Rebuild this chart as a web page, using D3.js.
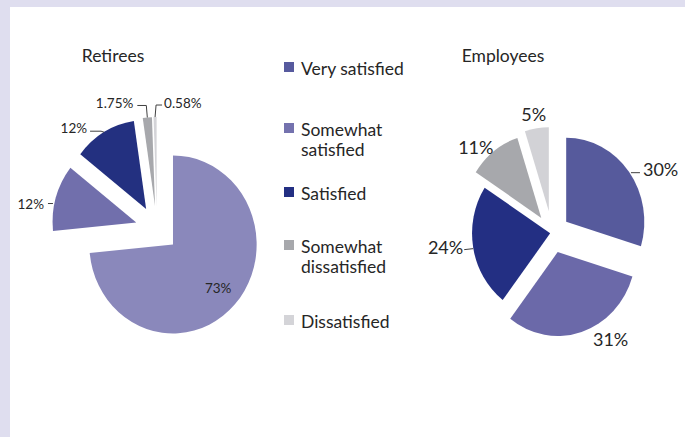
<!DOCTYPE html>
<html>
<head>
<meta charset="utf-8">
<script src="https://cdn.jsdelivr.net/npm/d3@7"></script>
<style>
  body { margin: 0; background: #dfdeef; }
  svg { display: block; font-family: Lato, "Open Sans", sans-serif; }
</style>
</head>
<body>
<svg id="chart"></svg>
<script>
const categories = ["Very satisfied", "Somewhat satisfied", "Satisfied", "Somewhat dissatisfied", "Dissatisfied"];
const legendLines = [["Very satisfied"], ["Somewhat", "satisfied"], ["Satisfied"], ["Somewhat", "dissatisfied"], ["Dissatisfied"]];

const retireesValues = [73, 12, 12, 1.75, 0.58];
const retireesLabels = ["73%", "12%", "12%", "1.75%", "0.58%"];

const employeesValues = [30, 31, 24, 11, 5];
const employeesLabels = ["30%", "31%", "24%", "11%", "5%"];

const legendColors = ["#575a9e", "#7472ae", "#232f83", "#a7a8ac", "#d4d4d8"];
const retireesColors = ["#8a88bb", "#716fac", "#233080", "#a7a8ac", "#d4d4d8"];
const employeesColors = ["#565a9c", "#6b69a9", "#232f83", "#a7a8ac", "#d2d2d6"];

const width = 685;
const height = 437;

const svg = d3.select("#chart")
  .attr("width", width)
  .attr("height", height);

// white panel on the lavender page
svg.append("rect")
  .attr("x", 10).attr("y", 7)
  .attr("width", width - 10).attr("height", height - 7)
  .attr("fill", "#ffffff");

const textColor = "#262626";

// label style per slice: where it sits relative to the point on the rim at mid-angle
const retireesLabelStyle = [
  { inside: 0.73, size: 13.5 },
  { dx: -12, dy: 6, anchor: "end", size: 13.5, leader: [[-3, 6], [-8, 6]] },
  { dx: -17, dy: -4, anchor: "end", size: 13.5, leader: [[0, 0], [-3, -1], [-14, -1]] },
  { dx: -14, dy: -14, anchor: "end", size: 13.5, leader: [[0, 0], [-1, -12], [-10, -12]] },
  { dx: 9, dy: -14, anchor: "start", size: 13.5, leader: [[0, 0], [1, -12], [7, -12]] }
];

const employeesLabelStyle = [
  { dx: 14, dy: -3, anchor: "start", size: 18, leader: [[2, 1], [11, 1]] },
  { dx: 29, dy: 7, anchor: "middle", size: 18 },
  { dx: -10, dy: -1, anchor: "end", size: 18, leader: [[0, 1], [-9, 2]] },
  { dx: -18, dy: -4, anchor: "middle", size: 18 },
  { dx: -3, dy: -14, anchor: "middle", size: 18 }
];

function drawPie(opts) {
  const pie = d3.pie().sort(null).value(d => d);
  const arcs = pie(opts.values);
  const arc = d3.arc().innerRadius(0).outerRadius(opts.r);

  const g = svg.append("g")
    .attr("transform", `translate(${opts.cx},${opts.cy}) scale(${opts.sx},1)`);

  g.selectAll("path")
    .data(arcs)
    .enter()
    .append("path")
    .attr("d", arc)
    .attr("fill", (d, i) => opts.colors[i])
    .attr("transform", (d, i) => {
      const a = (d.startAngle + d.endAngle) / 2;
      const e = opts.explode[i];
      return `translate(${e * Math.sin(a)},${-e * Math.cos(a)})`;
    });

  // labels in page space so text is not stretched
  arcs.forEach((d, i) => {
    const st = opts.labelStyle[i];
    const a = (d.startAngle + d.endAngle) / 2;
    const e = opts.explode[i];
    const rr = st.inside ? e + opts.r * st.inside : e + opts.r;
    const px = opts.cx + opts.sx * rr * Math.sin(a);
    const py = opts.cy - rr * Math.cos(a);

    if (st.leader) {
      svg.append("path")
        .attr("d", d3.line()(st.leader.map(p => [px + p[0], py + p[1]])))
        .attr("fill", "none")
        .attr("stroke", "#404040")
        .attr("stroke-width", 1);
    }

    svg.append("text")
      .attr("x", st.inside ? px : px + st.dx)
      .attr("y", st.inside ? py : py + st.dy)
      .attr("text-anchor", st.inside ? "middle" : st.anchor)
      .attr("dominant-baseline", "central")
      .attr("font-size", st.size)
      .attr("fill", textColor)
      .text(opts.labels[i]);
  });

  svg.append("text")
    .attr("x", opts.titleX)
    .attr("y", 62)
    .attr("text-anchor", "middle")
    .attr("font-size", 17.5)
    .attr("fill", textColor)
    .text(opts.title);
}

drawPie({
  title: "Retirees", titleX: 113,
  values: retireesValues, labels: retireesLabels, colors: retireesColors,
  cx: 157, cy: 229, r: 89, sx: 0.94,
  explode: [23, 23, 23, 23, 23],
  labelStyle: retireesLabelStyle
});

drawPie({
  title: "Employees", titleX: 503,
  values: employeesValues, labels: employeesLabels, colors: employeesColors,
  cx: 552, cy: 233, r: 84, sx: 0.93,
  explode: [19, 20, 2, 19, 22],
  labelStyle: employeesLabelStyle
});

// legend
const legendFirstBaseline = [75, 136, 200, 253, 328];
const legend = svg.append("g");

categories.forEach((c, i) => {
  const y = legendFirstBaseline[i];
  legend.append("rect")
    .attr("x", 284).attr("y", y - 13)
    .attr("width", 10).attr("height", 10)
    .attr("fill", legendColors[i]);
  const t = legend.append("text")
    .attr("x", 301).attr("y", y)
    .attr("font-size", 17.5)
    .attr("fill", textColor);
  legendLines[i].forEach((line, j) => {
    t.append("tspan").attr("x", 301).attr("dy", j === 0 ? 0 : 20).text(line);
  });
});
</script>
</body>
</html>
